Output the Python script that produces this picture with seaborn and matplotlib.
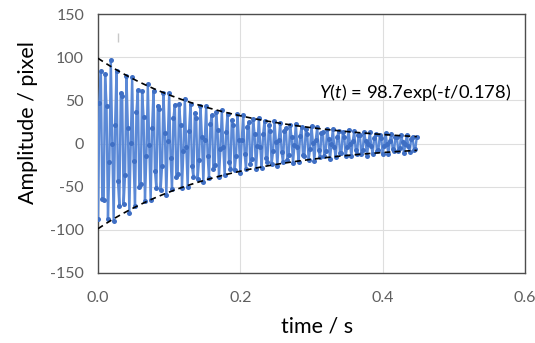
import numpy as np
import pandas as pd
import matplotlib
matplotlib.use("Agg")
import matplotlib.pyplot as plt
import seaborn as sns

# sampling interval of the recorded oscillation (s)
dt = 0.002
# amplitude samples (pixel), read/estimated from the chart
amplitude = [
    -88, 47, 84, -64, -66, 80, 44, -88, -22, 97, 0, -90, 21, 84, -43,
    -72, 58, 55, -70, -37, 78, 18, -80, 1, 77, -20, -72, 36, 62, -50,
    -47, 61, 31, -67, -14, 69, -2, -66, 18, 61, -32, -52, 44, 40, -54,
    -26, 58, 12, -60, 3, 58, -17, -53, 29, 45, -39, -35, 46, 22, -51,
    -9, 52, -4, -50, 15, 46, -26, -39, 35, 30, -41, -19, 44, 7, -45,
    4, 43, -14, -40, 23, 33, -30, -25, 36, 16, -39, -6, 39, -4, -37,
    13, 34, -21, -29, 27, 22, -31, -14, 34, 4, -34, 4, 33, -12, -30,
    19, 25, -24, -18, 28, 11, -30, -3, 30, -4, -28, 11, 26, -17, -21,
    21, 15, -24, -9, 26, 2, -26, 4, 24, -10, -22, 15, 18, -19, -13,
    21, 7, -23, -2, 23, -4, -21, 9, 19, -13, -15, 17, 11, -19, -6,
    20, 1, -20, 4, 19, -8, -16, 12, 13, -15, -9, 17, 5, -18, -1,
    17, -4, -16, 7, 14, -11, -11, 13, 8, -15, -4, 16, 0, -15, 3,
    14, -7, -12, 10, 10, -12, -7, 13, 3, -14, 0, 13, -3, -12, 6,
    11, -9, -8, 10, 6, -12, -3, 12, 0, -12, 3, 11, -6, -9, 8,
    7, -9, -5, 10, 2, -11, 0, 10, -3, -10, 5, 8, -7, -6, 8,
]
# fitted envelope Y(t) = A exp(-t/tau)
fit_A = 98.7
fit_tau = 0.178
fit_label = r"$\mathit{Y}$($\mathit{t}$) = 98.7exp(-$\mathit{t}$/0.178)"

x_ticks = [0.0, 0.2, 0.4, 0.6]
y_ticks = [-150, -100, -50, 0, 50, 100, 150]

# faint stray mark seen in the original chart (time, amp range)
stray_t = 0.028
stray_lo, stray_hi = 118, 128

time = np.arange(len(amplitude)) * dt
df = pd.DataFrame({"time": time, "amp": amplitude})
t_env = np.linspace(0, time[-1], 200)
env = pd.DataFrame({"time": t_env, "up": fit_A * np.exp(-t_env / fit_tau)})
env["lo"] = -env["up"]

sns.set_style("white")
plt.rcParams["font.family"] = ["Lato", "DejaVu Sans"]
plt.rcParams["mathtext.fontset"] = "custom"
plt.rcParams["mathtext.it"] = "Lato:italic"
plt.rcParams["mathtext.rm"] = "Lato"

fig = plt.figure(figsize=(5.35, 3.43), dpi=100)
ax = fig.add_axes([98 / 535, 1 - 273 / 343, (525 - 98) / 535, (273 - 14) / 343])

sns.lineplot(data=df, x="time", y="amp", ax=ax, color="#5b89d6", lw=1.7,
             marker="o", markersize=3.6, markeredgewidth=0,
             markerfacecolor="#3f6fc4", estimator=None, sort=False, zorder=3)
sns.lineplot(data=env, x="time", y="up", ax=ax, color="black", lw=1.2,
             linestyle=(0, (3.5, 2.5)), zorder=4)
sns.lineplot(data=env, x="time", y="lo", ax=ax, color="black", lw=1.2,
             linestyle=(0, (3.5, 2.5)), zorder=4)
ax.vlines(stray_t, stray_lo, stray_hi, color="#c8c8c8", lw=1.0, zorder=2)

ax.set_xlim(0, 0.6)
ax.set_ylim(-150, 150)
ax.set_xticks(x_ticks)
ax.set_xticklabels([f"{v:.1f}" for v in x_ticks])
ax.set_yticks(y_ticks)
ax.set_yticklabels([str(v) for v in y_ticks])
ax.grid(True, color="#dedede", lw=0.8)
ax.set_axisbelow(True)
for s in ax.spines.values():
    s.set_color("#4d4d4d")
    s.set_linewidth(1.0)
ax.tick_params(axis="both", direction="in", length=4, color="#4d4d4d",
               labelcolor="#5f5f5f", labelsize=11.5)
ax.tick_params(axis="y", pad=10)
ax.tick_params(axis="x", pad=13)

ax.set_xlabel("time / s", fontsize=15.5, color="black")
ax.set_ylabel("Amplitude / pixel", fontsize=15.5, color="black")
ax.xaxis.label.set_va("center")
ax.yaxis.label.set_va("center")
ax.xaxis.set_label_coords(0.513, -0.208)
ax.yaxis.set_label_coords(-0.165, 0.579)

ax.text(0.4454, 58.5, fit_label, fontsize=13.2, color="black",
        ha="center", va="center")

fig.savefig("out.png", dpi=100)
